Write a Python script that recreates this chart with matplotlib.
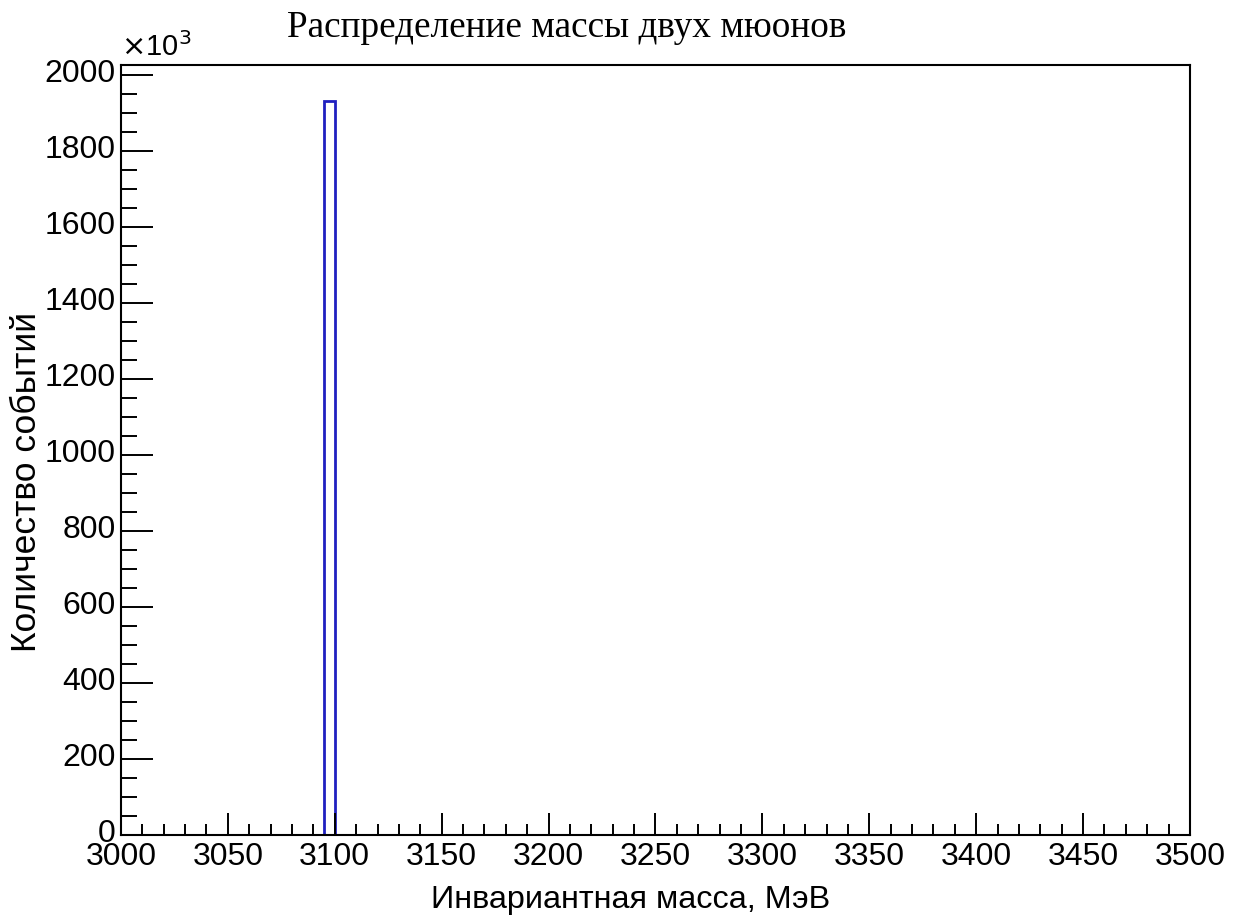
import matplotlib
matplotlib.use("Agg")
import matplotlib.pyplot as plt
import matplotlib.transforms as mtransforms
from matplotlib.ticker import MultipleLocator

# histogram 3000-3500 MeV, bin width 5 MeV, only one filled bin
x_min, x_max = 3000, 3500
bin_edges = [3095, 3100]
counts = [1930]            # in units of 10^3 events
y_max = 2026

plt.rcParams['font.family'] = ['Liberation Sans', 'DejaVu Sans']

fig = plt.figure(figsize=(12.38, 9.24), dpi=100)
ax = fig.add_axes([0.0977, 0.0963, 0.8635, 0.8334])

ax.stairs(counts, bin_edges, color='#2020c0', linewidth=2, baseline=0)

ax.set_xlim(x_min, x_max)
ax.set_ylim(0, y_max)

ax.xaxis.set_major_locator(MultipleLocator(50))
ax.xaxis.set_minor_locator(MultipleLocator(10))
ax.yaxis.set_major_locator(MultipleLocator(200))
ax.yaxis.set_minor_locator(MultipleLocator(50))

ax.tick_params(axis='both', which='both', direction='in', width=1.4,
               top=False, right=False, labelsize=23, colors='black')
ax.tick_params(axis='x', which='major', length=16, pad=5)
ax.tick_params(axis='x', which='minor', length=8)
ax.tick_params(axis='y', which='major', length=23, pad=4)
ax.tick_params(axis='y', which='minor', length=11.5)

# y labels sit a little above their ticks, as in ROOT
shift = mtransforms.ScaledTranslation(0, 3 / 72, fig.dpi_scale_trans)
for lab in ax.get_yticklabels():
    lab.set_transform(lab.get_transform() + shift)

for s in ax.spines.values():
    s.set_linewidth(1.5)

fig.text(567 / 1238, 1 - 28 / 924, 'Распределение массы двух мюонов',
         family=['Liberation Serif', 'DejaVu Serif'], fontsize=26.8,
         ha='center', va='center')
fig.text(121 / 1238, 1 - 47 / 924, r'$\times$10$^3$', fontsize=21,
         ha='left', va='center')
fig.text(631 / 1238, 1 - 900 / 924, 'Инвариантная масса, МэВ', fontsize=23.3,
         ha='center', va='center')
fig.text(27 / 1238, 1 - 482 / 924, 'Количество событий', fontsize=25.5,
         ha='center', va='center', rotation=90)

fig.savefig('out.png', dpi=100)
